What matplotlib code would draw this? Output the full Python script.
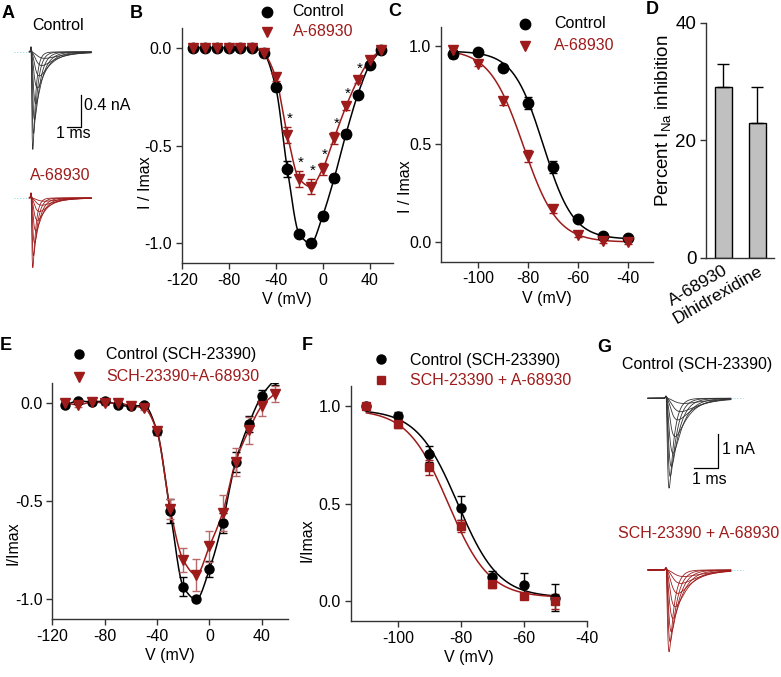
import numpy as np
import matplotlib
matplotlib.use("Agg")
import matplotlib.pyplot as plt
from matplotlib.lines import Line2D

plt.rcParams['font.family'] = ['Liberation Sans', 'DejaVu Sans']
plt.rcParams['axes.unicode_minus'] = False
plt.rcParams['mathtext.default'] = 'regular'

RED = '#9e1b1b'
FS = 11.5

# ---- panel B: I-V (control vs A-68930)
v_iv = [-110, -100, -90, -80, -70, -60, -50, -40, -30, -20, -10, 0, 10, 20, 30, 40, 50]
b_ctrl = [0, 0, 0, 0, 0, 0, -0.03, -0.20, -0.62, -0.95, -1.00, -0.86, -0.665, -0.44, -0.24, -0.09, -0.01]
b_ctrl_err = [0, 0, 0, 0, 0, 0, 0.01, 0.02, 0.04, 0.01, 0.01, 0.02, 0.02, 0.02, 0.01, 0.01, 0.01]
b_a68 = [0, 0, 0, 0, 0, 0, -0.03, -0.15, -0.445, -0.67, -0.71, -0.62, -0.46, -0.30, -0.165, -0.065, -0.01]
b_a68_err = [0, 0, 0, 0, 0, 0, 0.01, 0.02, 0.04, 0.04, 0.04, 0.03, 0.03, 0.02, 0.015, 0.01, 0.01]
b_sig = [-30, -20, -10, 0, 10, 20, 30]

# ---- panel C: steady-state inactivation
v_inact = [-110, -100, -90, -80, -70, -60, -50, -40]
c_ctrl = [0.96, 0.97, 0.89, 0.71, 0.385, 0.12, 0.03, 0.02]
c_ctrl_err = [0.02, 0.01, 0.015, 0.03, 0.03, 0.01, 0.01, 0.01]
c_a68 = [0.98, 0.91, 0.72, 0.44, 0.17, 0.035, 0.005, 0.0]
c_a68_err = [0.01, 0.01, 0.02, 0.03, 0.02, 0.01, 0.01, 0.01]
# Boltzmann fit parameters: top, bottom, V1/2, slope
c_ctrl_fit = (0.975, 0.015, -74.0, 6.0)
c_a68_fit = (0.985, 0.0, -82.0, 6.8)

# ---- panel D: percent inhibition
d_labels = ['A-68930', 'Dihidrexidine']
d_vals = [29, 23]
d_err = [4, 6]

# ---- panel E: I-V with SCH-23390
e_ctrl = [-0.01, 0.01, 0.005, 0.01, -0.01, -0.017, -0.012, -0.144, -0.55, -0.935, -1.0, -0.847, -0.61, -0.30, -0.108, 0.037, 0.12]
e_ctrl_err = [0.01, 0.01, 0.01, 0.01, 0.01, 0.01, 0.01, 0.02, 0.06, 0.05, 0.01, 0.04, 0.05, 0.05, 0.04, 0.03, 0.03]
e_mix = [0.0, -0.01, 0.005, 0.0, 0.0, -0.015, -0.025, -0.145, -0.54, -0.80, -0.875, -0.73, -0.56, -0.30, -0.14, -0.015, 0.047]
e_mix_err = [0.01, 0.01, 0.01, 0.01, 0.01, 0.01, 0.01, 0.02, 0.05, 0.06, 0.08, 0.08, 0.09, 0.07, 0.07, 0.05, 0.04]

# ---- panel F: inactivation with SCH-23390
v_inact_f = [-110, -100, -90, -80, -70, -60, -50]
f_ctrl = [1.0, 0.945, 0.752, 0.477, 0.127, 0.085, 0.019]
f_ctrl_err = [0.01, 0.02, 0.04, 0.06, 0.03, 0.06, 0.07]
f_mix = [1.0, 0.905, 0.684, 0.384, 0.09, 0.029, 0.0]
f_mix_err = [0.01, 0.02, 0.04, 0.03, 0.02, 0.01, 0.04]
f_ctrl_fit = (0.98, 0.02, -81.0, 6.5)
f_mix_fit = (0.98, 0.02, -84.0, 6.5)

# ---- example current traces (peak nA, activation tau ms, inactivation tau ms)
a_ctrl_amp = [1.22, 1.02, 0.85, 0.65, 0.45, 0.30, 0.17, 0.08]
a_a68_amp = [0.87, 0.72, 0.56, 0.41, 0.28, 0.17, 0.09, 0.04]
a_tau_m = [0.05, 0.07, 0.10, 0.14, 0.19, 0.25, 0.32, 0.40]
a_tau_h = [0.20, 0.28, 0.38, 0.50, 0.65, 0.85, 1.10, 1.40]
g_ctrl_amp = [2.62, 2.28, 1.99, 1.60, 1.12, 0.63, 0.39, 0.15]
g_mix_amp = [2.38, 2.09, 1.80, 1.41, 1.07, 0.68, 0.39, 0.19]
g_tau_m = [0.05, 0.07, 0.09, 0.12, 0.16, 0.21, 0.27, 0.33]
g_tau_h = [0.20, 0.26, 0.33, 0.42, 0.53, 0.66, 0.80, 0.95]

W, H = 781, 677
fig = plt.figure(figsize=(W / 100, H / 100), dpi=100)


def add_ax(l, t, r, b):
    return fig.add_axes([l / W, 1 - b / H, (r - l) / W, (b - t) / H])


def ftext(x, y, s, **kw):
    fig.text(x / W, 1 - y / H, s, **kw)


def fmark(x, y, **kw):
    fig.add_artist(Line2D([x / W], [1 - y / H], transform=fig.transFigure, **kw))


def style(ax, fs=FS):
    for s in ['top', 'right']:
        ax.spines[s].set_visible(False)
    for s in ['left', 'bottom']:
        ax.spines[s].set_color('#333333')
        ax.spines[s].set_linewidth(1.0)
    ax.tick_params(direction='out', length=4, width=1, color='#333333', labelsize=fs, pad=3)


def boltz(v, p):
    top, bot, vh, k = p
    return bot + (top - bot) / (1 + np.exp((v - vh) / k))


def pchip(x, y, xs):
    x = np.asarray(x, float)
    y = np.asarray(y, float)
    h = np.diff(x)
    d = np.diff(y) / h
    n = len(x)
    m = np.zeros(n)
    m[0], m[-1] = d[0], d[-1]
    for k in range(1, n - 1):
        if d[k - 1] * d[k] > 0:
            w1 = 2 * h[k] + h[k - 1]
            w2 = h[k] + 2 * h[k - 1]
            m[k] = (w1 + w2) / (w1 / d[k - 1] + w2 / d[k])
    idx = np.clip(np.searchsorted(x, xs) - 1, 0, n - 2)
    t = (xs - x[idx]) / h[idx]
    h00 = 2 * t**3 - 3 * t**2 + 1
    h10 = t**3 - 2 * t**2 + t
    h01 = -2 * t**3 + 3 * t**2
    h11 = t**3 - t**2
    return h00 * y[idx] + h10 * h[idx] * m[idx] + h01 * y[idx + 1] + h11 * h[idx] * m[idx + 1]


def series(ax, x, y, err, color, marker, ms, ecolor=None):
    ax.errorbar(x, y, yerr=err, fmt=marker, color=color, ms=ms, mec=color,
                ecolor=ecolor or color, elinewidth=1, capsize=3, capthick=1,
                clip_on=True, zorder=3)


# ================= B =================
axB = add_ax(181.7, 28, 393, 263)
style(axB)
vs = np.linspace(-110, 50, 400)
axB.plot(vs, pchip(v_iv, b_ctrl, vs), color='black', lw=1.1)
axB.plot(vs, pchip(v_iv, b_a68, vs), color=RED, lw=1.1)
series(axB, v_iv, b_ctrl, b_ctrl_err, 'black', 'o', 7.5)
series(axB, v_iv, b_a68, b_a68_err, RED, 'v', 7.5)
for v in b_sig:
    i = v_iv.index(v)
    axB.annotate('*', xy=(v, b_a68[i] + b_a68_err[i]), xytext=(1.5, 1), textcoords='offset points',
                 ha='center', va='bottom', fontsize=11)
axB.set_xlim(-120, 60)
axB.set_ylim(-1.1, 0.1)
axB.set_xticks([-120, -80, -40, 0, 40])
axB.set_yticks([0.0, -0.5, -1.0])
axB.set_yticklabels(['0.0', '-0.5', '-1.0'])
axB.set_xlabel('V (mV)', fontsize=FS, labelpad=3)

# ================= C =================
axC = add_ax(441, 26.7, 653, 261.7)
style(axC)
vc = np.linspace(-110, -40, 300)
axC.plot(vc, boltz(vc, c_ctrl_fit), color='black', lw=1.1)
axC.plot(vc, boltz(vc, c_a68_fit), color=RED, lw=1.1)
series(axC, v_inact, c_ctrl, c_ctrl_err, 'black', 'o', 7.5)
series(axC, v_inact, c_a68, c_a68_err, RED, 'v', 7.5)
axC.set_xlim(-115, -30)
axC.set_ylim(-0.1, 1.1)
axC.set_xticks([-100, -80, -60, -40])
axC.set_yticks([0.0, 0.5, 1.0])
axC.set_yticklabels(['0.0', '0.5', '1.0'])
axC.set_xlabel('V (mV)', fontsize=FS, labelpad=3)

# ================= D =================
axD = add_ax(706, 22.7, 774.3, 257.7)
style(axD, fs=13.5)
xpos = np.arange(len(d_vals))
axD.bar(xpos, d_vals, width=0.5, color='#c0c0c0', edgecolor='black', lw=1,
        yerr=[[0] * len(d_err), d_err], error_kw=dict(ecolor='black', elinewidth=1, capsize=4, capthick=1))
axD.set_xlim(-0.5, 1.5)
axD.set_ylim(0, 40)
axD.set_yticks([0, 20, 40])
axD.set_xticks(xpos)
axD.set_xticklabels(d_labels, rotation=30, ha='right', rotation_mode='anchor', fontsize=12.5)
axD.tick_params(axis='x', length=0, pad=4)
ftext(663, 121, 'Percent I$_{\\mathregular{Na}}$ inhibition', rotation=90, ha='center', va='center', fontsize=13.5)

# ================= E =================
axE = add_ax(52.3, 383.3, 288, 619)
style(axE)
axE.plot(vs, pchip(v_iv, e_ctrl, vs), color='black', lw=1.1)
axE.plot(vs, pchip(v_iv, e_mix, vs), color=RED, lw=1.1)
series(axE, v_iv, e_ctrl, e_ctrl_err, 'black', 'o', 6.5)
series(axE, v_iv, e_mix, e_mix_err, RED, 'v', 6.5, ecolor='#b86a6a')
axE.set_xlim(-120, 60)
axE.set_ylim(-1.1, 0.1)
axE.set_xticks([-120, -80, -40, 0, 40])
axE.set_yticks([0.0, -0.5, -1.0])
axE.set_yticklabels(['0.0', '-0.5', '-1.0'])
axE.set_xlabel('V (mV)', fontsize=FS, labelpad=3)

# ================= F =================
axF = add_ax(350.7, 386, 586.7, 621)
style(axF)
vf = np.linspace(-110, -50, 300)
axF.plot(vf, boltz(vf, f_ctrl_fit), color='black', lw=1.1)
axF.plot(vf, boltz(vf, f_mix_fit), color=RED, lw=1.1)
series(axF, v_inact_f, f_ctrl, f_ctrl_err, 'black', 'o', 6.5)
series(axF, v_inact_f, f_mix, f_mix_err, RED, 's', 5.5)
axF.set_xlim(-115, -40)
axF.set_ylim(-0.1, 1.1)
axF.set_xticks([-100, -80, -60, -40])
axF.set_yticks([0.0, 0.5, 1.0])
axF.set_yticklabels(['0.0', '0.5', '1.0'])
axF.set_xlabel('V (mV)', fontsize=FS, labelpad=3)

# y labels placed like the original
ftext(146, 183, 'I / Imax', rotation=90, ha='center', va='center', fontsize=FS)
ftext(405, 187, 'I / Imax', rotation=90, ha='center', va='center', fontsize=FS)
ftext(13, 543, 'I/Imax', rotation=90, ha='center', va='center', fontsize=FS)
ftext(307, 540, 'I/Imax', rotation=90, ha='center', va='center', fontsize=FS)

# legends
fmark(266.7, 11.7, marker='o', color='black', ms=7.5, ls='none')
ftext(292.7, 12, 'Control', ha='left', va='center', fontsize=FS)
fmark(266.7, 31.7, marker='v', color=RED, ms=7.5, ls='none')
ftext(292.7, 32, 'A-68930', ha='left', va='center', fontsize=FS, color=RED)

fmark(525, 24, marker='o', color='black', ms=7.5, ls='none')
ftext(554, 24, 'Control', ha='left', va='center', fontsize=FS)
fmark(525, 46, marker='v', color=RED, ms=7.5, ls='none')
ftext(554, 46, 'A-68930', ha='left', va='center', fontsize=FS, color=RED)

fmark(79, 354.3, marker='o', color='black', ms=6.5, ls='none')
ftext(106, 354.3, 'Control (SCH-23390)', ha='left', va='center', fontsize=FS)
fmark(79, 376.7, marker='v', color=RED, ms=6.5, ls='none')
ftext(106, 376.7, 'SCH-23390+A-68930', ha='left', va='center', fontsize=FS, color=RED)

fmark(381, 359, marker='o', color='black', ms=6.5, ls='none')
ftext(410, 360, 'Control (SCH-23390)', ha='left', va='center', fontsize=FS)
fmark(381, 380, marker='s', color=RED, ms=5.5, ls='none')
ftext(410, 381, 'SCH-23390 + A-68930', ha='left', va='center', fontsize=FS, color=RED)


# ================= traces (A and G) =================
def trace_axes(l, t, r, b, xlim, ylim):
    ax = add_ax(l, t, r, b)
    ax.set_xlim(*xlim)
    ax.set_ylim(*ylim)
    ax.axis('off')
    return ax


def draw_traces(ax, amps, tm, th, color, t0, t1, base_from):
    t = np.linspace(t0, t1, 600)
    tp = np.linspace(0, 6, 6000)
    for a, m, hh in zip(amps, tm, th):
        tt = np.clip(t, 0, None)
        shape = (1 - np.exp(-tt / m)) ** 3 * np.exp(-tt / hh)
        peak = ((1 - np.exp(-tp / m)) ** 3 * np.exp(-tp / hh)).max()
        art = 0.06 * np.exp(-((t - 0.0) / 0.04) ** 2)
        ax.plot(t, -a * shape / peak + art, color=color, lw=0.6)
    ax.plot([base_from[0], base_from[1]], [0, 0], color='#7fd4e0', lw=0.7, ls=(0, (1, 2)))


def scale_bar(ax, x, y, dx, dy):
    ax.plot([x - dx, x, x], [y, y, y + dy], color='black', lw=0.9)


# A control: 14 px/ms, 80 px/nA, onset at x=31, baseline y=52
axA1 = trace_axes(10, 40, 95, 155, (-1.5, 4.57), (-1.29, 0.15))
draw_traces(axA1, a_ctrl_amp, a_tau_m, a_tau_h, '#333333', -0.12, 4.3, (-1.2, -0.12))
scale_bar(axA1, 3.57, -0.94, 1.0, 0.4)
ftext(84, 105, '0.4 nA', ha='left', va='center', fontsize=FS)
ftext(73, 134, '1 ms', ha='center', va='center', fontsize=FS)
ftext(58, 25, 'Control', ha='center', va='center', fontsize=FS)

axA2 = trace_axes(10, 185, 95, 275, (-1.5, 4.57), (-0.9625, 0.1625))
draw_traces(axA2, a_a68_amp, a_tau_m, a_tau_h, RED, -0.12, 4.3, (-1.2, -0.12))
ftext(60, 175, 'A-68930', ha='center', va='center', fontsize=FS, color=RED)

# G: 24 px/ms, 34.3 px/nA, onset at x=666
axG1 = trace_axes(640, 385, 745, 495, (-1.083, 3.29), (-2.82, 0.388))
draw_traces(axG1, g_ctrl_amp, g_tau_m, g_tau_h, '#333333', -0.75, 2.7, (2.7, 3.2))
scale_bar(axG1, 2.17, -2.03, 1.0, 1.0)
ftext(721.7, 450, '1 nA', ha='left', va='center', fontsize=FS)
ftext(709.3, 480, '1 ms', ha='center', va='center', fontsize=FS)
ftext(697, 365, 'Control (SCH-23390)', ha='center', va='center', fontsize=FS)

axG2 = trace_axes(640, 555, 745, 660, (-1.083, 3.29), (-2.62, 0.437))
draw_traces(axG2, g_mix_amp, g_tau_m, g_tau_h, RED, -0.75, 2.7, (2.7, 3.2))
ftext(699, 533, 'SCH-23390 + A-68930', ha='center', va='center', fontsize=FS, color=RED)

# panel letters
for lab, x, y in [('A', 2, 13), ('B', 130, 13), ('C', 388, 11), ('D', 646, 9),
                  ('E', 0, 345), ('F', 302, 345), ('G', 597, 348)]:
    ftext(x, y, lab, ha='left', va='center', fontsize=13, fontweight='bold')

fig.savefig('out.png', dpi=100)
